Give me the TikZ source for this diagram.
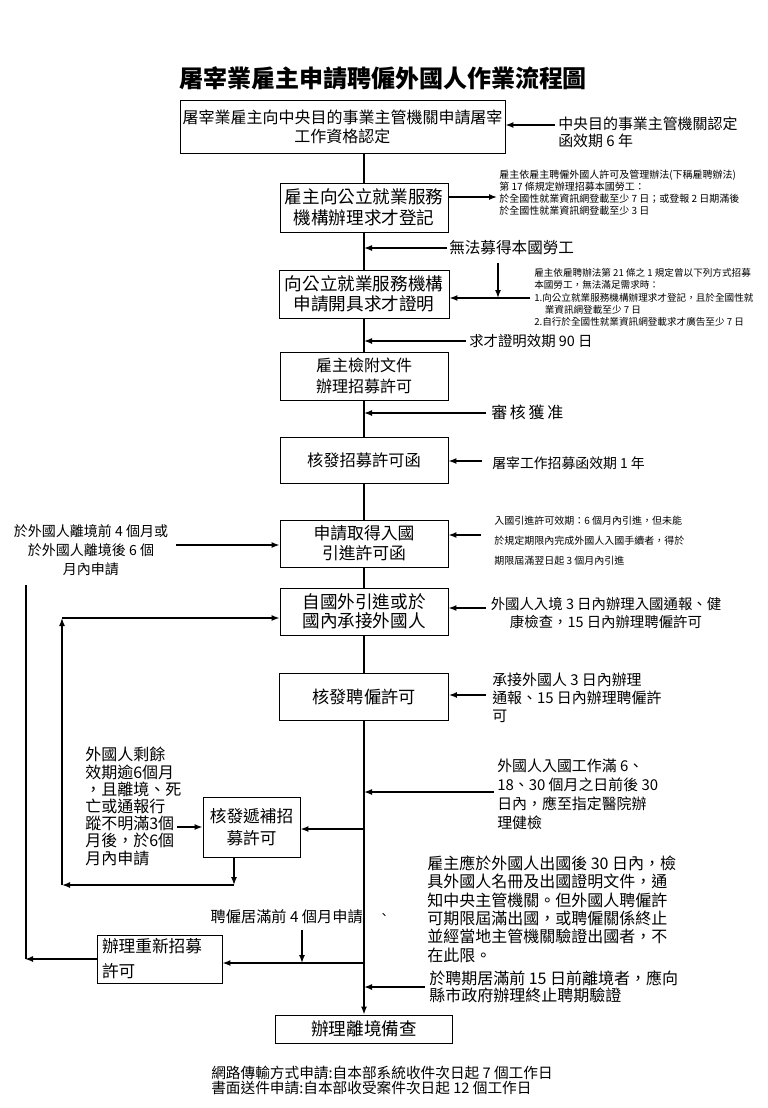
\documentclass[tikz,border=0pt]{standalone}
\usepackage{fontspec}
\setmainfont{Noto Sans CJK TC}
\usepackage{tikz}
\usetikzlibrary{arrows.meta, positioning}
\newcommand{\fsz}[2]{\fontsize{#1}{#2}\selectfont}

\begin{document}
\begin{tikzpicture}[x=0.75pt, y=-0.75pt,
    box/.style={draw, line width=0.7pt, inner sep=0pt, align=center},
    note/.style={inner sep=0pt, anchor=west, align=left},
    arr/.style={line width=1.1pt, -{Latex[length=6pt,width=4.5pt]}},
    plain/.style={line width=1.1pt}]
      \useasboundingbox (0,0) rectangle (768,1108);

      % title
      \node[font=\bfseries\fsz{18}{20}] (title) at (383,78) {屠宰業雇主申請聘僱外國人作業流程圖};

      % main column
      \node[box, minimum width=243.75pt, minimum height=39.75pt, font=\fsz{12}{14.25}](cert) at (342.5,126.5) {屠宰業雇主向中央目的事業主管機關申請屠宰\\工作資格認定};
      \node[box, minimum width=126pt, minimum height=36.75pt, font=\fsz{13.2}{15.75}](jobreg) at (364,207.5) {雇主向公立就業服務\\機構辦理求才登記};
      \node[box, minimum width=127.5pt, minimum height=36pt, font=\fsz{13.2}{15}](proof) at (364,294) {向公立就業服務機構\\申請開具求才證明};
      \node[box, minimum width=126pt, minimum height=36pt, font=\fsz{12}{15.75}](apply) at (364,376) {雇主檢附文件\\辦理招募許可};
      \node[box, minimum width=126pt, minimum height=34.5pt, font=\fsz{12.2}{15}](letter) at (364,460) {核發招募許可函};
      \node[box, minimum width=126pt, minimum height=35.25pt, font=\fsz{12.6}{15}](entry) at (364,543.5) {申請取得入國\\引進許可函};
      \node[box, minimum width=126pt, minimum height=35.25pt, font=\fsz{13.2}{14.25}](arrive) at (364,611.5) {自國外引進或於\\國內承接外國人};
      \node[box, minimum width=126.75pt, minimum height=35.25pt, font=\fsz{12.9}{15}](hire) at (364,696.5) {核發聘僱許可};
      \node[box, minimum width=132.75pt, minimum height=21pt, font=\fsz{13.2}{15}](exit) at (364,1029) {辦理離境備查};

      % side boxes
      \node[box, minimum width=72.75pt, minimum height=45pt, font=\fsz{12.5}{17}](sub) at (251.5,827) {核發遞補招\\募許可};
      \node[box, text width=86.25pt, inner xsep=3.75pt, minimum height=36pt, align=left, font=\fsz{12.5}{18.75}](rehire) at (159.5,959) {辦理重新招募\\許可};

      \draw[plain] (cert.south -| jobreg) -- (jobreg.north);
      \draw[plain] (jobreg) -- (proof);
      \draw[plain] (proof) -- (apply);
      \draw[plain] (apply) -- (letter);
      \draw[plain] (letter) -- (entry);
      \draw[plain] (entry) -- (arrive);
      \draw[plain] (arrive) -- (hire);
      \draw[arr] (hire.south) -- (exit.north);

      % notes on the right
      \node[note, font=\fsz{11.2}{12.75}](n1) at (558,132.5) {中央目的事業主管機關認定\\函效期 6 年};
      \coordinate (n1a) at (555,125);
      \draw[arr] (n1a) -- (n1a -| cert.east);

      \node[note, font=\fsz{7.5}{9}](n2) at (499,193) {雇主依雇主聘僱外國人許可及管理辦法(下稱雇聘辦法)\\第 17 條規定辦理招募本國勞工：\\於全國性就業資訊網登載至少 7 日；或登報 2 日期滿後\\於全國性就業資訊網登載至少 3 日};
      \coordinate (n2a) at (497,197);
      \draw[arr] (n2a -| jobreg.east) -- (n2a);

      \node[note, font=\fsz{11.7}{14}](gap) at (449,248) {無法募得本國勞工};
      \coordinate (g1) at (447,248);
      \draw[arr] (g1) -- (g1 -| jobreg);

      \node[note, font=\fsz{7.2}{9.2}](n3) at (534,297.5) {雇主依雇聘辦法第 21 條之 1 規定曾以下列方式招募\\本國勞工，無法滿足需求時：\\1.向公立就業服務機構辦理求才登記，且於全國性就\\\hspace*{1.1em}業資訊網登載至少 7 日\\2.自行於全國性就業資訊網登載求才廣告至少 7 日};
      \coordinate (n3a) at (530,298);
      \coordinate (g2) at (498,263);
      \draw[arr] (n3a) -- (n3a -| proof.east);
      \draw[arr] (g2) -- (g2 |- n3a);

      \node[note, font=\fsz{10.8}{13}](valid) at (469,341) {求才證明效期 90 日};
      \coordinate (v1) at (466,341);
      \draw[arr] (v1) -- (v1 -| proof);

      \node[note, font=\fsz{12}{14}](ok) at (491,412) {審\,核\,獲\,准};
      \coordinate (v2) at (486,413);
      \draw[arr] (v2) -- (v2 -| apply);

      \node[note, font=\fsz{10.4}{13}](n5) at (492,463) {屠宰工作招募函效期 1 年};
      \coordinate (n5a) at (482,461);
      \draw[arr] (n5a) -- (n5a -| letter.east);

      \node[note, font=\fsz{7.5}{15}](n6) at (494,541) {入國引進許可效期：6 個月內引進，但未能\\於規定期限內完成外國人入國手續者，得於\\期限屆滿翌日起 3 個月內引進};
      \coordinate (n6a) at (481,535);
      \draw[arr] (n6a) -- (n6a -| entry.east);

      \node[note, align=center, anchor=center, font=\fsz{10.8}{13.5}](n7) at (606,613) {外國人入境 3 日內辦理入國通報、健\\康檢查，15 日內辦理聘僱許可};
      \coordinate (n7a) at (486,608);
      \draw[arr] (n7a) -- (n7a -| arrive.east);

      \node[note, font=\fsz{11.2}{13.5}](n8) at (492,698) {承接外國人 3 日內辦理\\通報、15 日內辦理聘僱許\\可};
      \coordinate (n8a) at (486,695);
      \draw[arr] (n8a) -- (n8a -| hire.east);

      \node[note, font=\fsz{11.2}{14.3}](health) at (497,794) {外國人入國工作滿 6、\\18、30 個月之日前後 30\\日內，應至指定醫院辦\\理健檢};
      \coordinate (h1) at (494,792);
      \draw[arr] (h1) -- (h1 -| hire);

      \node[note, font=\fsz{12}{13.8}](report) at (427,909) {雇主應於外國人出國後 30 日內，檢\\具外國人名冊及出國證明文件，通\\知中央主管機關。但外國人聘僱許\\可期限屆滿出國，或聘僱關係終止\\並經當地主管機關驗證出國者，不\\在此限。};

      \node[note, font=\fsz{12}{13}](early) at (429,987) {於聘期居滿前 15 日前離境者，應向\\縣市政府辦理終止聘期驗證};
      \coordinate (e1) at (425,987);
      \draw[arr] (e1) -- (e1 -| hire);

      % notes on the left
      \node[align=center, inner sep=0pt, font=\fsz{10.5}{14.3}](l6) at (91,550) {於外國人離境前 4 個月或\\於外國人離境後 6 個\\月內申請};
      \coordinate (l6a) at (176,545);
      \draw[arr] (l6a) -- (l6a -| entry.west);

      \node[note, font=\fsz{12}{12.9}](left) at (85,806.5) {外國人剩餘\\效期逾6個月\\，且離境、死\\亡或通報行\\蹤不明滿3個\\月後，於6個\\月內申請};
      \coordinate (lb) at (177,827);
      \draw[arr] (lb) -- (lb -| sub.west);
      \coordinate (s1) at (364,829);
      \draw[arr] (s1) -- (s1 -| sub.east);

      % loop back to the entry box
      \coordinate (loopR) at (234,885);
      \coordinate (loopL) at (62,885);
      \coordinate (loopT) at (62,618);
      \draw[arr] (sub.south -| loopR) -- (loopR);
      \draw[arr] (loopR) -- (loopL);
      \draw[arr] (loopL) -- (loopT);
      \draw[arr] (loopT) -- (loopT -| arrive.west);

      \node[inner sep=0pt, anchor=east, font=\fsz{11.4}{14}](renew) at (363,917) {聘僱居滿前 4 個月申請};
      \node[inner sep=0pt, font=\fsz{9}{10}](dot) at (384,916) {、};
      \coordinate (r1) at (302,930);
      \coordinate (r2) at (364,963);
      \draw[arr] (r1) -- (r1 |- r2);
      \draw[arr] (r2) -- (r2 -| rehire.east);

      \coordinate (ltop) at (26,585);
      \coordinate (lbot) at (25,959);
      \draw[plain] (ltop) -- (ltop |- lbot);
      \draw[arr] (rehire.west) -- (lbot);

      % footer
      \node[note, font=\fsz{11}{11.4}](foot) at (211,1080.5) {網路傳輸方式申請:自本部系統收件次日起 7 個工作日\\書面送件申請:自本部收受案件次日起 12 個工作日};
    \end{tikzpicture}
\end{document}
